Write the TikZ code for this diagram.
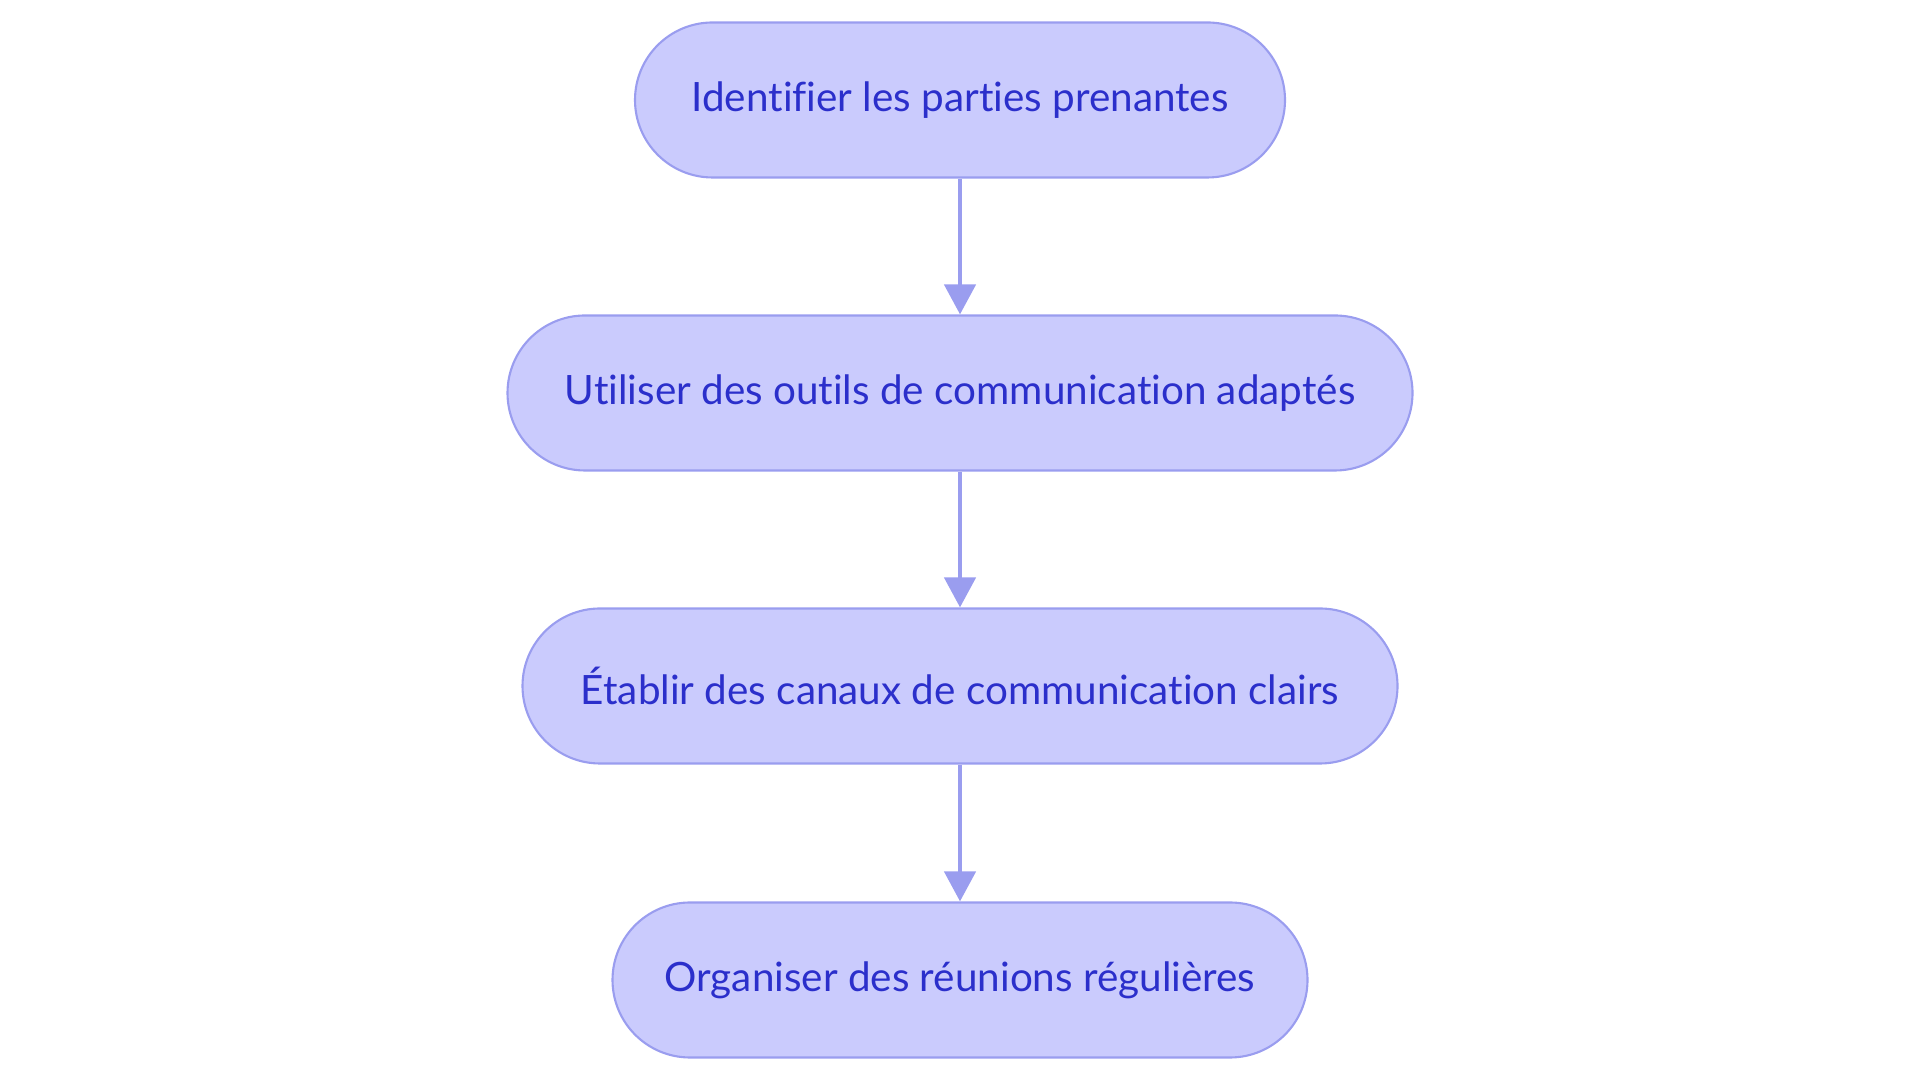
\documentclass[tikz,border=0pt]{standalone}
\usepackage{fontspec}
\setmainfont{Lato}[Ligatures={NoCommon,NoRare,NoDiscretionary,NoContextual}]
\usetikzlibrary{positioning}
\usetikzlibrary{arrows.meta}

\definecolor{stepfill}{HTML}{CACBFD}
\definecolor{stepline}{HTML}{9A9DEF}
\definecolor{steptext}{HTML}{2B2FCB}

\tikzset{
    stepbox/.style={draw=stepline, line width=1.2pt, fill=stepfill,
        text=steptext, rounded corners=1.55cm, minimum height=3.1cm,
        font=\fontsize{23}{27}\selectfont},
    flow/.style={draw=stepline, line width=2.6pt,
        -{Triangle[width=0.62cm,length=0.6cm]}}
}

\begin{document}
\begin{tikzpicture}
    \useasboundingbox (0, 0) rectangle (38.4, 21.66);
    \path (19.2, 19.66) node [stepbox, minimum width=13.0cm] (id) {Identifier les parties prenantes};
    \path (19.2, 13.8) node [stepbox, minimum width=18.1cm] (ou) {Utiliser des outils de communication adaptés};
    \path (19.2, 7.94) node [stepbox, minimum width=17.5cm] (ca) {Établir des canaux de communication clairs};
    \path (19.2, 2.06) node [stepbox, minimum width=13.9cm] (re) {Organiser des réunions régulières};
    \draw [flow] (id) -- (ou);
    \draw [flow] (ou) -- (ca);
    \draw [flow] (ca) -- (re);
\end{tikzpicture}
\end{document}
